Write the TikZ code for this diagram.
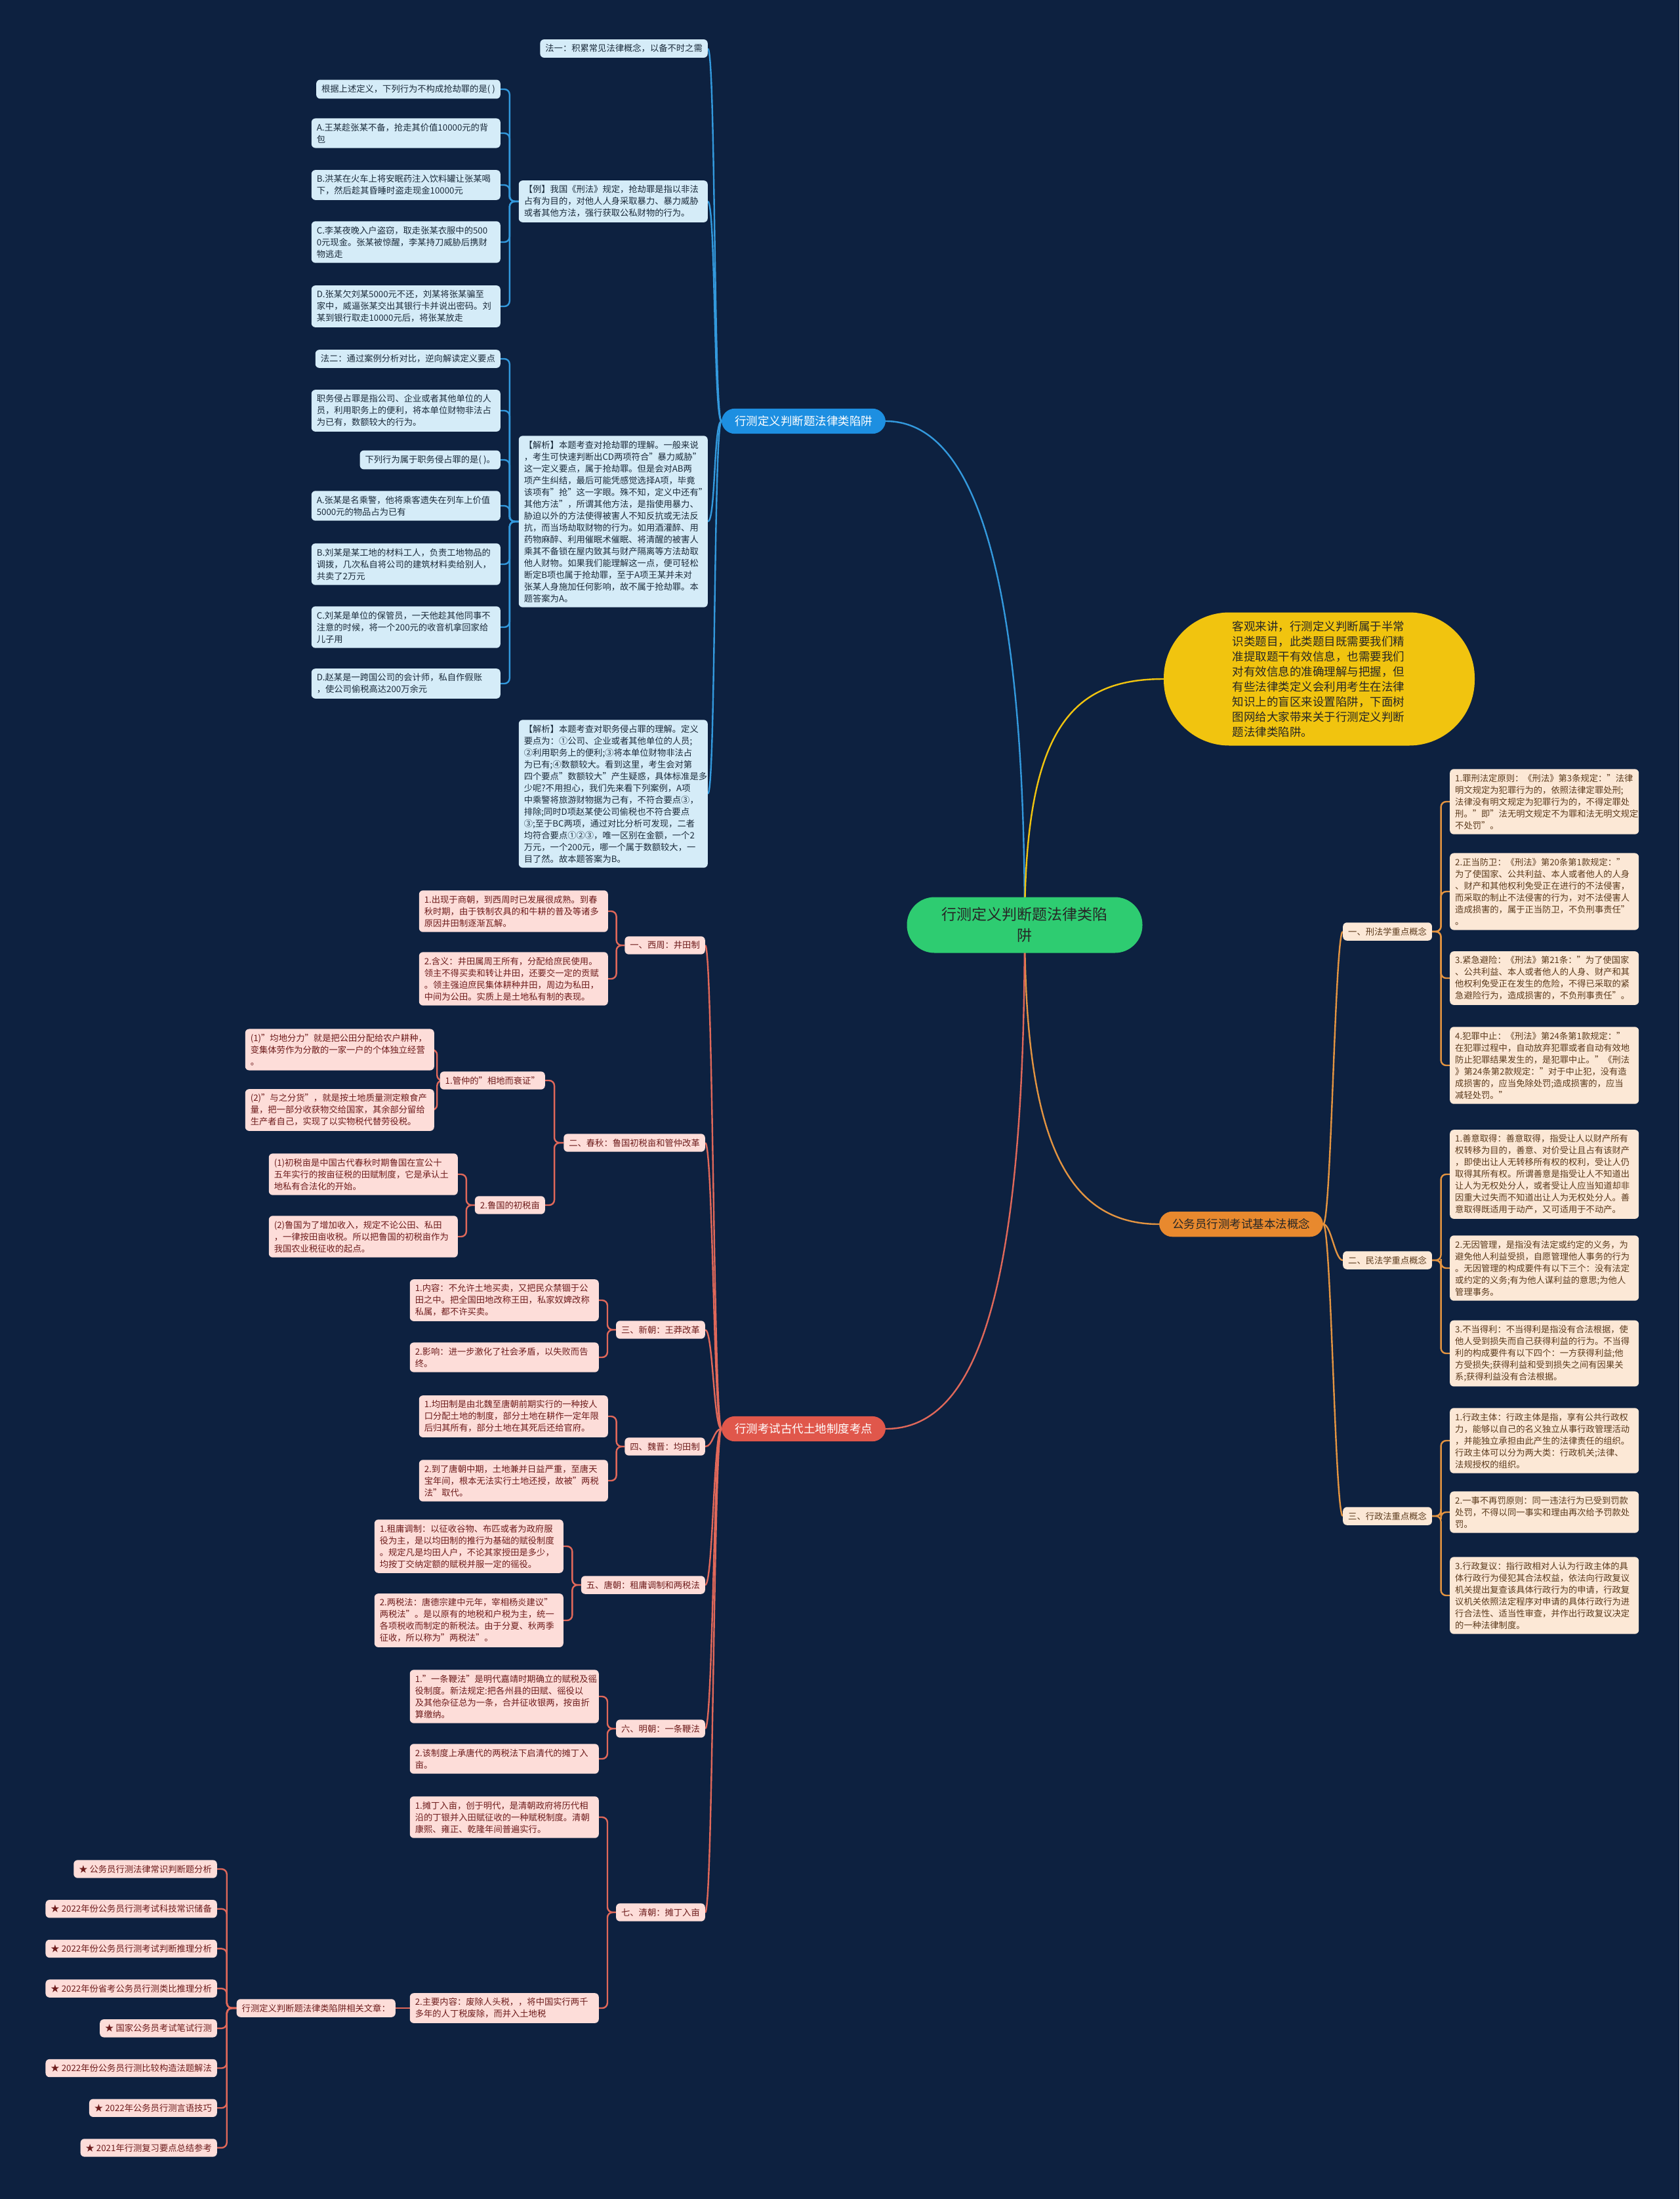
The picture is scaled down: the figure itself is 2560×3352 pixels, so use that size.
\documentclass[tikz,border=0pt]{standalone}
\usepackage{fontspec}
\setmainfont{Noto Sans CJK SC}
\usetikzlibrary{calc}
\definecolor{bgnavy}{HTML}{0D2140}
\definecolor{rootgreen}{HTML}{2ECC71}
\definecolor{bluemain}{HTML}{1D8FE1}
\definecolor{blueline}{HTML}{3399DD}
\definecolor{blueleaf}{HTML}{D5ECF8}
\definecolor{bluetext}{HTML}{1B2B3B}
\definecolor{sunyellow}{HTML}{F1C40F}
\definecolor{orangemain}{HTML}{E8892E}
\definecolor{orangeline}{HTML}{E39441}
\definecolor{orangeleaf}{HTML}{FCE8D6}
\definecolor{orangetext}{HTML}{5B3A1C}
\definecolor{redmain}{HTML}{E0574B}
\definecolor{redline}{HTML}{E0685A}
\definecolor{redleaf}{HTML}{FDDDD9}
\definecolor{redtext}{HTML}{6E1C1C}
\pgfdeclarelayer{canvas}
\pgfdeclarelayer{edges}
\pgfsetlayers{canvas,edges,main}

\begin{document}
\begin{tikzpicture}[x=1pt,y=-1pt,
  box/.style={rounded corners=6pt,inner xsep=8pt,inner ysep=7.5pt,align=left,font=\fontsize{13.3}{18}\selectfont},
  wrap/.style={text width=272pt},
  bleaf/.style={box,fill=blueleaf,text=bluetext},
  oleaf/.style={box,fill=orangeleaf,text=orangetext},
  rleaf/.style={box,fill=redleaf,text=redtext},
  pill/.style={rounded corners=20pt,inner xsep=20pt,inner ysep=11pt,font=\fontsize{17.5}{22}\selectfont},
  sweep/.style={to path={.. controls ($(\tikztostart)+(#1,0)$) and ($(\tikztotarget)+(-#1,0)$) .. (\tikztotarget)}},
  bracket/.style={to path={-| ($(\tikztostart)!0.5!(\tikztotarget)$) |- (\tikztotarget)}},
  bwire/.style={draw=blueline,line width=2.4pt,rounded corners=8pt},
  owire/.style={draw=orangeline,line width=2.4pt,rounded corners=8pt},
  rwire/.style={draw=redline,line width=2.4pt,rounded corners=8pt}]

\begin{pgfonlayer}{canvas}
\fill[bgnavy] (0,0) rectangle (2560,3352);
\end{pgfonlayer}

% centre and main branches
\node[fill=rootgreen,text=black!85,rounded corners=42pt,minimum width=359pt,minimum height=85pt,align=center,font=\fontsize{23}{32}\selectfont] (root) at (1562,1410) {行测定义判断题法律类陷\\阱};
\node[pill,fill=bluemain,text=white] (bmain) at (1225,642) {行测定义判断题法律类陷阱};
\node[pill,fill=orangemain,text=black!85] (omain) at (1892,1866) {公务员行测考试基本法概念};
\node[pill,fill=redmain,text=white] (rmain) at (1225,2178) {行测考试古代土地制度考点};
\node[fill=sunyellow,text=black!85,rounded corners=100pt,minimum width=474pt,minimum height=203pt,text width=265pt,align=left,font=\fontsize{17.5}{23}\selectfont] (intro) at (2011,1035) {客观来讲，行测定义判断属于半常\\识类题目，此类题目既需要我们精\\准提取题干有效信息，也需要我们\\对有效信息的准确理解与把握，但\\有些法律类定义会利用考生在法律\\知识上的盲区来设置陷阱，下面树\\图网给大家带来关于行测定义判断\\题法律类陷阱。};

% blue branch
\node[bleaf,anchor=east] (L1) at (1079,74) {法一：积累常见法律概念，以备不时之需};
\node[bleaf,wrap,anchor=east] (L2) at (1079,307) {【例】我国《刑法》规定，抢劫罪是指以非法\\占有为目的，对他人人身采取暴力、暴力威胁\\或者其他方法，强行获取公私财物的行为。};
\node[bleaf,wrap,anchor=east] (L3) at (1079,795) {【解析】本题考查对抢劫罪的理解。一般来说\\，考生可快速判断出CD两项符合"暴力威胁"\\这一定义要点，属于抢劫罪。但是会对AB两\\项产生纠结，最后可能凭感觉选择A项，毕竟\\该项有"抢"这一字眼。殊不知，定义中还有"\\其他方法"，所谓其他方法，是指使用暴力、\\胁迫以外的方法使得被害人不知反抗或无法反\\抗，而当场劫取财物的行为。如用酒灌醉、用\\药物麻醉、利用催眠术催眠、将清醒的被害人\\乘其不备锁在屋内致其与财产隔离等方法劫取\\他人财物。如果我们能理解这一点，便可轻松\\断定B项也属于抢劫罪，至于A项王某并未对\\张某人身施加任何影响，故不属于抢劫罪。本\\题答案为A。};
\node[bleaf,wrap,anchor=east] (L4) at (1079,1210) {【解析】本题考查对职务侵占罪的理解。定义\\要点为：①公司、企业或者其他单位的人员;\\②利用职务上的便利;③将本单位财物非法占\\为已有;④数额较大。看到这里，考生会对第\\四个要点"数额较大"产生疑惑，具体标准是多\\少呢?不用担心，我们先来看下列案例，A项\\中乘警将旅游财物据为己有，不符合要点③，\\排除;同时D项赵某使公司偷税也不符合要点\\③;至于BC两项，通过对比分析可发现，二者\\均符合要点①②③，唯一区别在金额，一个2\\万元，一个200元，哪一个属于数额较大，一\\目了然。故本题答案为B。};
\node[bleaf,anchor=east] (c1) at (763,136) {根据上述定义，下列行为不构成抢劫罪的是( )};
\node[bleaf,wrap,anchor=east] (c2) at (763,203) {A.王某趁张某不备，抢走其价值10000元的背\\包};
\node[bleaf,wrap,anchor=east] (c3) at (763,282) {B.洪某在火车上将安眠药注入饮料罐让张某喝\\下，然后趁其昏睡时盗走现金10000元};
\node[bleaf,wrap,anchor=east] (c4) at (763,369) {C.李某夜晚入户盗窃，取走张某衣服中的500\\0元现金。张某被惊醒，李某持刀威胁后携财\\物逃走};
\node[bleaf,wrap,anchor=east] (c5) at (763,467) {D.张某欠刘某5000元不还，刘某将张某骗至\\家中，威逼张某交出其银行卡并说出密码。刘\\某到银行取走10000元后，将张某放走};
\node[bleaf,anchor=east] (d1) at (763,547) {法二：通过案例分析对比，逆向解读定义要点};
\node[bleaf,wrap,anchor=east] (d2) at (763,626) {职务侵占罪是指公司、企业或者其他单位的人\\员，利用职务上的便利，将本单位财物非法占\\为已有，数额较大的行为。};
\node[bleaf,anchor=east] (d3) at (763,701) {下列行为属于职务侵占罪的是( )。};
\node[bleaf,wrap,anchor=east] (d4) at (763,771) {A.张某是名乘警，他将乘客遗失在列车上价值\\5000元的物品占为已有};
\node[bleaf,wrap,anchor=east] (d5) at (763,860) {B.刘某是某工地的材料工人，负责工地物品的\\调拨，几次私自将公司的建筑材料卖给别人，\\共卖了2万元};
\node[bleaf,wrap,anchor=east] (d6) at (763,956) {C.刘某是单位的保管员，一天他趁其他同事不\\注意的时候，将一个200元的收音机拿回家给\\儿子用};
\node[bleaf,wrap,anchor=east] (d7) at (763,1042) {D.赵某是一跨国公司的会计师，私自作假账\\，使公司偷税高达200万余元};

% orange branch
\node[oleaf,anchor=west] (s1) at (2047,1420) {一、刑法学重点概念};
\node[oleaf,anchor=west] (s2) at (2047,1921) {二、民法学重点概念};
\node[oleaf,anchor=west] (s3) at (2047,2311) {三、行政法重点概念};
\node[oleaf,wrap,anchor=west] (o1) at (2210,1222) {1.罪刑法定原则：《刑法》第3条规定："法律\\明文规定为犯罪行为的，依照法律定罪处刑;\\法律没有明文规定为犯罪行为的，不得定罪处\\刑。"即"法无明文规定不为罪和法无明文规定\\不处罚"。};
\node[oleaf,wrap,anchor=west] (o2) at (2210,1359) {2.正当防卫：《刑法》第20条第1款规定："\\为了使国家、公共利益、本人或者他人的人身\\、财产和其他权利免受正在进行的不法侵害，\\而采取的制止不法侵害的行为，对不法侵害人\\造成损害的，属于正当防卫，不负刑事责任"\\。};
\node[oleaf,wrap,anchor=west] (o3) at (2210,1491) {3.紧急避险：《刑法》第21条："为了使国家\\、公共利益、本人或者他人的人身、财产和其\\他权利免受正在发生的危险，不得已采取的紧\\急避险行为，造成损害的，不负刑事责任"。};
\node[oleaf,wrap,anchor=west] (o4) at (2210,1624) {4.犯罪中止：《刑法》第24条第1款规定："\\在犯罪过程中，自动放弃犯罪或者自动有效地\\防止犯罪结果发生的，是犯罪中止。"《刑法\\》第24条第2款规定："对于中止犯，没有造\\成损害的，应当免除处罚;造成损害的，应当\\减轻处罚。"};
\node[oleaf,wrap,anchor=west] (o5) at (2210,1790) {1.善意取得：善意取得，指受让人以财产所有\\权转移为目的，善意、对价受让且占有该财产\\，即使出让人无转移所有权的权利，受让人仍\\取得其所有权。所谓善意是指受让人不知道出\\让人为无权处分人，或者受让人应当知道却非\\因重大过失而不知道出让人为无权处分人。善\\意取得既适用于动产，又可适用于不动产。};
\node[oleaf,wrap,anchor=west] (o6) at (2210,1933) {2.无因管理，是指没有法定或约定的义务，为\\避免他人利益受损，自愿管理他人事务的行为\\。无因管理的构成要件有以下三个：没有法定\\或约定的义务;有为他人谋利益的意思;为他人\\管理事务。};
\node[oleaf,wrap,anchor=west] (o7) at (2210,2063) {3.不当得利：不当得利是指没有合法根据，使\\他人受到损失而自己获得利益的行为。不当得\\利的构成要件有以下四个：一方获得利益;他\\方受损失;获得利益和受到损失之间有因果关\\系;获得利益没有合法根据。};
\node[oleaf,wrap,anchor=west] (o8) at (2210,2196) {1.行政主体：行政主体是指，享有公共行政权\\力，能够以自己的名义独立从事行政管理活动\\，并能独立承担由此产生的法律责任的组织。\\行政主体可以分为两大类：行政机关;法律、\\法规授权的组织。};
\node[oleaf,wrap,anchor=west] (o9) at (2210,2305) {2.一事不再罚原则：同一违法行为已受到罚款\\处罚，不得以同一事实和理由再次给予罚款处\\罚。};
\node[oleaf,wrap,anchor=west] (o10) at (2210,2432) {3.行政复议：指行政相对人认为行政主体的具\\体行政行为侵犯其合法权益，依法向行政复议\\机关提出复查该具体行政行为的申请，行政复\\议机关依照法定程序对申请的具体行政行为进\\行合法性、适当性审查，并作出行政复议决定\\的一种法律制度。};

% red branch
\node[rleaf,anchor=east] (r1) at (1075,1441) {一、西周：井田制};
\node[rleaf,anchor=east] (r2) at (1075,1742) {二、春秋：鲁国初税亩和管仲改革};
\node[rleaf,anchor=east] (r3) at (1075,2027) {三、新朝：王莽改革};
\node[rleaf,anchor=east] (r4) at (1075,2205) {四、魏晋：均田制};
\node[rleaf,anchor=east] (r5) at (1075,2416) {五、唐朝：租庸调制和两税法};
\node[rleaf,anchor=east] (r6) at (1075,2635) {六、明朝：一条鞭法};
\node[rleaf,anchor=east] (r7) at (1075,2915) {七、清朝：摊丁入亩};
\node[rleaf,wrap,anchor=east] (w1) at (927,1389) {1.出现于商朝，到西周时已发展很成熟。到春\\秋时期，由于铁制农具的和牛耕的普及等诸多\\原因井田制逐渐瓦解。};
\node[rleaf,wrap,anchor=east] (w2) at (927,1492) {2.含义：井田属周王所有，分配给庶民使用。\\领主不得买卖和转让井田，还要交一定的贡赋\\。领主强迫庶民集体耕种井田，周边为私田，\\中间为公田。实质上是土地私有制的表现。};
\node[rleaf,anchor=east] (g1) at (831,1647) {1.管仲的"相地而衰证"};
\node[rleaf,anchor=east] (g2) at (831,1837) {2.鲁国的初税亩};
\node[rleaf,wrap,anchor=east] (g1a) at (662,1600) {(1)"均地分力"就是把公田分配给农户耕种，\\变集体劳作为分散的一家一户的个体独立经营\\。};
\node[rleaf,wrap,anchor=east] (g1b) at (662,1692) {(2)"与之分货"，就是按土地质量测定粮食产\\量，把一部分收获物交给国家，其余部分留给\\生产者自己，实现了以实物税代替劳役税。};
\node[rleaf,wrap,anchor=east] (g2a) at (698,1790) {(1)初税亩是中国古代春秋时期鲁国在宣公十\\五年实行的按亩征税的田赋制度，它是承认土\\地私有合法化的开始。};
\node[rleaf,wrap,anchor=east] (g2b) at (698,1885) {(2)鲁国为了增加收入，规定不论公田、私田\\，一律按田亩收税。所以把鲁国的初税亩作为\\我国农业税征收的起点。};
\node[rleaf,wrap,anchor=east] (x1) at (913,1982) {1.内容：不允许土地买卖，又把民众禁锢于公\\田之中。把全国田地改称王田，私家奴婢改称\\私属，都不许买卖。};
\node[rleaf,wrap,anchor=east] (x2) at (913,2069) {2.影响：进一步激化了社会矛盾，以失败而告\\终。};
\node[rleaf,wrap,anchor=east] (j1) at (927,2159) {1.均田制是由北魏至唐朝前期实行的一种按人\\口分配土地的制度，部分土地在耕作一定年限\\后归其所有，部分土地在其死后还给官府。};
\node[rleaf,wrap,anchor=east] (j2) at (927,2257) {2.到了唐朝中期，土地兼并日益严重，至唐天\\宝年间，根本无法实行土地还授，故被"两税\\法"取代。};
\node[rleaf,wrap,anchor=east] (t1) at (859,2357) {1.租庸调制：以征收谷物、布匹或者为政府服\\役为主，是以均田制的推行为基础的赋役制度\\。规定凡是均田人户，不论其家授田是多少，\\均按丁交纳定额的赋税并服一定的徭役。};
\node[rleaf,wrap,anchor=east] (t2) at (859,2470) {2.两税法：唐德宗建中元年，宰相杨炎建议"\\两税法"。是以原有的地税和户税为主，统一\\各项税收而制定的新税法。由于分夏、秋两季\\征收，所以称为"两税法"。};
\node[rleaf,wrap,anchor=east] (m1) at (913,2586) {1."一条鞭法"是明代嘉靖时期确立的赋税及徭\\役制度。新法规定:把各州县的田赋、徭役以\\及其他杂征总为一条，合并征收银两，按亩折\\算缴纳。};
\node[rleaf,wrap,anchor=east] (m2) at (913,2681) {2.该制度上承唐代的两税法下启清代的摊丁入\\亩。};
\node[rleaf,wrap,anchor=east] (q1) at (913,2770) {1.摊丁入亩，创于明代，是清朝政府将历代相\\沿的丁银并入田赋征收的一种赋税制度。清朝\\康熙、雍正、乾隆年间普遍实行。};
\node[rleaf,wrap,anchor=east] (q2) at (913,3061) {2.主要内容：废除人头税，，将中国实行两千\\多年的人丁税废除，而并入土地税};
\node[rleaf,anchor=east] (rel) at (603,3061) {行测定义判断题法律类陷阱相关文章：};
\foreach \t [count=\i] in {公务员行测法律常识判断题分析, 2022年份公务员行测考试科技常识储备, 2022年份公务员行测考试判断推理分析, 2022年份省考公务员行测类比推理分析, 国家公务员考试笔试行测, 2022年份公务员行测比较构造法题解法, 2022年公务员行测言语技巧, 2021年行测复习要点总结参考}
  \node[rleaf,anchor=east] (art\i) at (331,{2849+60.7*(\i-1)}) {★ \t};

% connectors
\begin{pgfonlayer}{edges}
\draw[bwire] (root.center) .. controls ($(root.center)+(0,-520)$) and ($(bmain.east)+(140,0)$) .. (bmain.east);
\draw[draw=sunyellow,line width=2.4pt] (root.center) .. controls ($(root.center)+(0,-300)$) and ($(intro.west)+(-140,0)$) .. (intro.west);
\draw[owire] (root.center) .. controls ($(root.center)+(0,330)$) and ($(omain.west)+(-140,0)$) .. (omain.west);
\draw[rwire] (root.center) .. controls ($(root.center)+(0,560)$) and ($(rmain.east)+(140,0)$) .. (rmain.east);
\foreach \c in {L1,L2,L3,L4} \draw[bwire] (bmain.west) to[sweep=-12] (\c.east);
\foreach \i in {1,...,5} \draw[bwire] (L2.west) to[bracket] (c\i.east);
\foreach \i in {1,...,7} \draw[bwire] (L3.west) to[bracket] (d\i.east);
\foreach \i in {1,2,3} \draw[owire] (omain.east) to[sweep=12] (s\i.west);
\foreach \i in {1,...,4} \draw[owire] (s1.east) to[bracket] (o\i.west);
\foreach \i in {5,6,7} \draw[owire] (s2.east) to[bracket] (o\i.west);
\foreach \i in {8,9,10} \draw[owire] (s3.east) to[bracket] (o\i.west);
\foreach \i in {1,...,7} \draw[rwire] (rmain.west) to[sweep=-12] (r\i.east);
\foreach \p/\c in {r1/w1,r1/w2,r2/g1,r2/g2,g1/g1a,g1/g1b,g2/g2a,g2/g2b,r3/x1,r3/x2,r4/j1,r4/j2,r5/t1,r5/t2,r6/m1,r6/m2,r7/q1,r7/q2}
  \draw[rwire] (\p.west) to[bracket] (\c.east);
\draw[rwire] (q2.west) -- (rel.east);
\foreach \i in {1,...,8} \draw[rwire] (rel.west) to[bracket] (art\i.east);
\end{pgfonlayer}
\end{tikzpicture}
\end{document}
